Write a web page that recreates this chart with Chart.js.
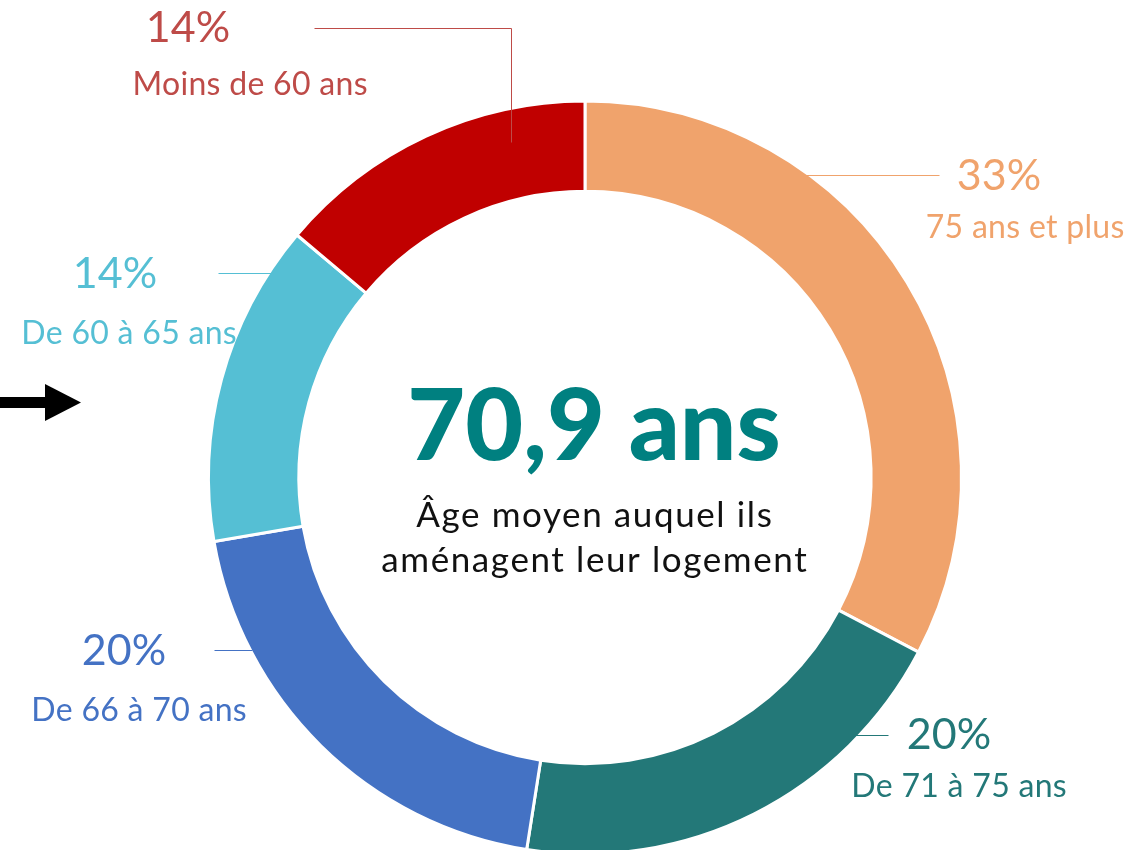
<!DOCTYPE html>
<html>
<head>
<meta charset="utf-8">
<script src="https://cdn.jsdelivr.net/npm/chart.js@4.4.1/dist/chart.umd.min.js"></script>
<style>
    html, body { margin: 0; padding: 0; background: #fff; overflow: hidden; }
    #wrap { position: relative; width: 1129px; height: 900px; }
</style>
</head>
<body>
<div id="wrap"><canvas id="chart" width="1129" height="900"></canvas></div>
<script>
    // data, clockwise from 12 o'clock
    const categories = ["75 ans et plus", "De 71 à 75 ans", "De 66 à 70 ans", "De 60 à 65 ans", "Moins de 60 ans"];
    const shares = [33, 20, 20, 14, 14];
    const centerValue = "70,9 ans";
    const centerCaption = ["Âge moyen auquel ils", "aménagent leur logement"];

    const FILLS = ["#F0A36C", "#237878", "#4472C4", "#55BFD4", "#C00000"];
    const TEXTS = ["#F0A36C", "#237878", "#4472C4", "#55BFD4", "#BE4B48"];
    const FONT = "Lato, 'Open Sans', sans-serif";

    // label placement (pct centre, caption centre, leader polyline)
    const labelLayout = [
        { px: 999, py: 176, cx: 1025, cy: 228, line: [[800, 175], [939, 175]] },
        { px: 949, py: 735, cx: 959, cy: 787, line: [[888, 735], [855, 735]] },
        { px: 124, py: 651, cx: 139, cy: 711, line: [[214, 650], [252, 650]] },
        { px: 115, py: 274, cx: 129, cy: 334, line: [[218, 273], [272, 273]] },
        { px: 188, py: 28, cx: 250, cy: 85, line: [[314, 28], [511, 28], [511, 142]] },
    ];

    function spaced(ctx, text, x, y, spacing) {
        // centred text with extra letter spacing
        if ("letterSpacing" in ctx) {
            ctx.letterSpacing = spacing + "px";
            ctx.fillText(text, x + spacing / 2, y);
            ctx.letterSpacing = "0px";
        } else {
            ctx.fillText(text, x, y);
        }
    }

    const labelsPlugin = {
        id: "labels",
        afterDraw(chart) {
            const ctx = chart.ctx;
            const arc = chart.getDatasetMeta(0).data[0];
            ctx.save();
            ctx.textAlign = "center";
            ctx.textBaseline = "middle";

            labelLayout.forEach((l, i) => {
                ctx.strokeStyle = TEXTS[i];
                ctx.lineWidth = 1;
                ctx.beginPath();
                l.line.forEach(([x, y], k) => k ? ctx.lineTo(x + 0.5, y + 0.5) : ctx.moveTo(x + 0.5, y + 0.5));
                ctx.stroke();

                ctx.fillStyle = TEXTS[i];
                ctx.font = "400 43px " + FONT;
                ctx.fillText(shares[i] + "%", l.px, l.py);
                ctx.font = "400 32px " + FONT;
                spaced(ctx, categories[i], l.cx, l.cy, 0.3);
            });

            // centre text
            const cx = arc.x + 9, cy = arc.y;
            ctx.fillStyle = "#008080";
            ctx.font = "900 100px " + FONT;
            ctx.fillText(centerValue, cx, cy - 50);
            ctx.fillStyle = "#111";
            ctx.font = "400 35px " + FONT;
            spaced(ctx, centerCaption[0], cx, cy + 38, 1.6);
            spaced(ctx, centerCaption[1], cx, cy + 83, 1.6);

            // arrow on the left
            ctx.fillStyle = "#000";
            ctx.fillRect(0, 397, 46, 11);
            ctx.beginPath();
            ctx.moveTo(45, 384);
            ctx.lineTo(81, 402.5);
            ctx.lineTo(45, 421);
            ctx.closePath();
            ctx.fill();
            ctx.restore();
        }
    };

    new Chart(document.getElementById("chart"), {
        type: "doughnut",
        data: {
            labels: categories,
            datasets: [{
                data: shares,
                backgroundColor: FILLS,
                borderColor: "#fff",
                borderWidth: 3,
            }]
        },
        options: {
            responsive: false,
            animation: false,
            cutout: "76%",
            layout: { padding: { left: 207, right: 166, top: 99, bottom: 44 } },
            plugins: {
                legend: { display: false },
                tooltip: { enabled: false }
            }
        },
        plugins: [labelsPlugin]
    });
</script>
</body>
</html>
